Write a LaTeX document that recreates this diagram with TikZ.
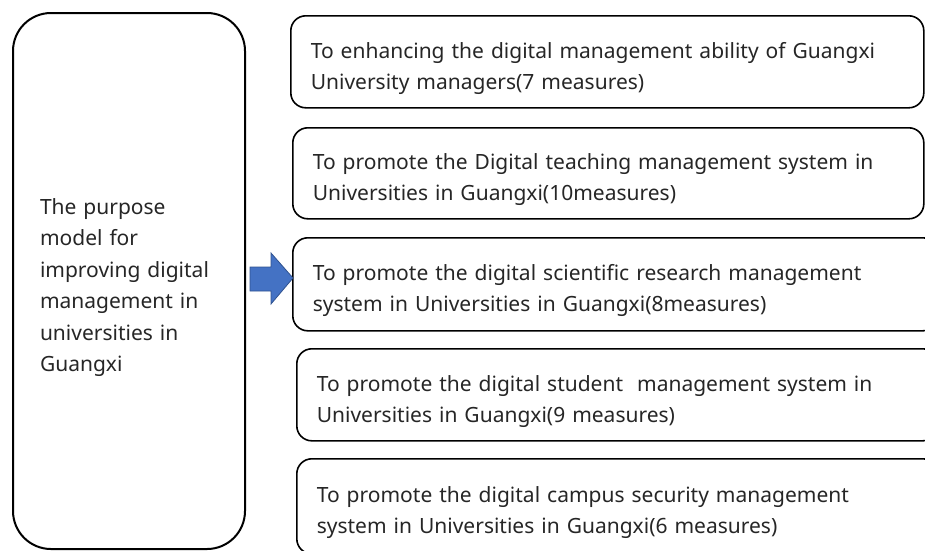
\documentclass[tikz,border=0pt]{standalone}
\usepackage{fontspec}
\setmainfont{Noto Sans}
\definecolor{arrowblue}{HTML}{4472C4}
\definecolor{arrowedge}{HTML}{2F528F}
\begin{document}
\begin{tikzpicture}[x=1pt, y=-1pt,
    box/.style={draw, line width=1.6pt, rounded corners=15pt, anchor=north west,
        align=left, inner xsep=20pt, text=black!85, font=\fontsize{21}{31.4}\selectfont,
        execute at begin node={\rule{0pt}{29pt}}}]
    \useasboundingbox (0,0) rectangle (925,550);

    \node[box, rounded corners=38pt, line width=2pt, minimum width=232pt, minimum height=536pt,
        text width=178pt, inner xsep=27pt] (purpose) at (12,12)
        {The purpose\\model for\\improving digital\\management in\\universities in\\Guangxi};

    \node[box, minimum width=633pt, minimum height=92pt, text width=593pt] (m1) at (290,15)
        {To enhancing the digital management ability of Guangxi\\University managers(7 measures)};
    \node[box, minimum width=631pt, minimum height=91pt, text width=591pt] (m2) at (292,127)
        {To promote the Digital teaching management system in\\Universities in Guangxi(10measures)};
    \node[box, minimum width=645pt, minimum height=93pt, text width=605pt] (m3) at (292,237)
        {To promote the digital scientific research management\\system in Universities in Guangxi(8measures)};
    \node[box, minimum width=641pt, minimum height=92pt, text width=601pt] (m4) at (296,348)
        {To promote the digital student \ management system in\\Universities in Guangxi(9 measures)};
    \node[box, minimum width=641pt, minimum height=95pt, text width=601pt] (m5) at (296,458)
        {To promote the digital campus security management\\system in Universities in Guangxi(6 measures)};

    % block arrow
    \filldraw[fill=arrowblue, draw=arrowedge, line width=0.8pt]
        (250,267) -- (271,267) -- (271,253) -- (293,278) -- (271,304) -- (271,291) -- (250,291) -- cycle;
\end{tikzpicture}
\end{document}
